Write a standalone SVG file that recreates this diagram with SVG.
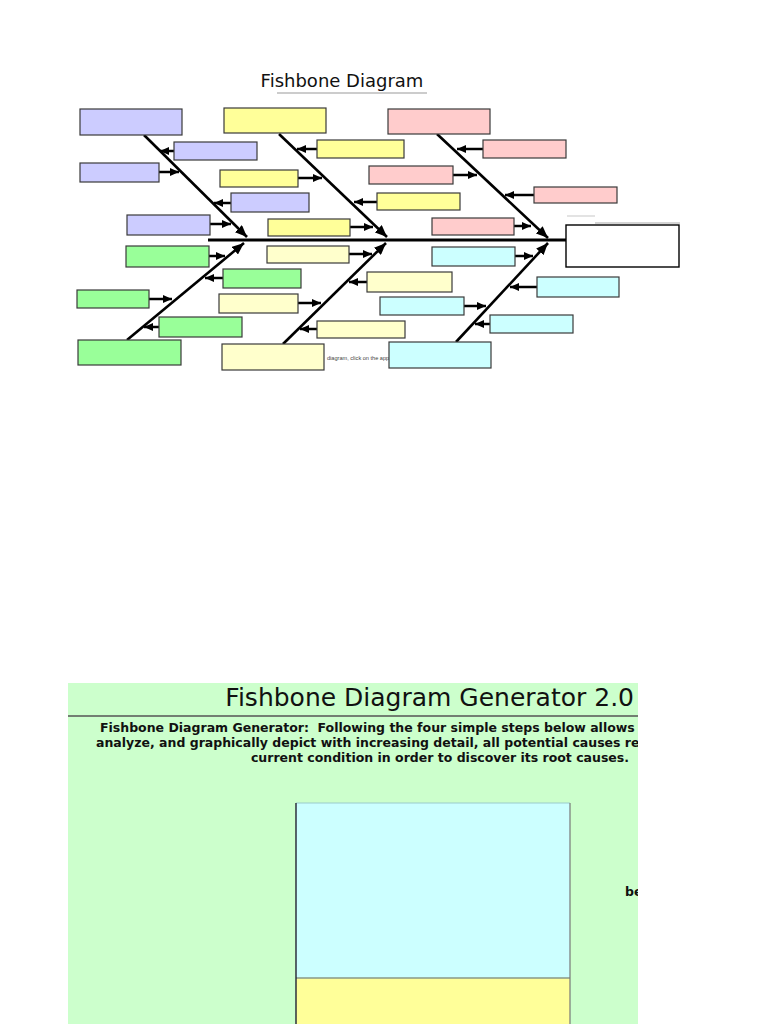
<svg xmlns="http://www.w3.org/2000/svg" width="768" height="1024" viewBox="0 0 768 1024">
<defs>
<style>
.bx{stroke:#3a3a3a;stroke-width:1.2}
.blue{fill:#CCCCFF}.yel{fill:#FFFF99}.pink{fill:#FFCCCC}.grn{fill:#99FF99}.ly{fill:#FFFFCC}.cyan{fill:#CCFFFF}
.arr{stroke:#000;stroke-width:2.5;fill:none;marker-end:url(#ah)}
.bone{stroke:#000;stroke-width:2.6;fill:none;marker-end:url(#bh)}
.body{font-family:"DejaVu Sans",Verdana,sans-serif;font-weight:bold;font-size:12.5px;fill:#111}
</style>
<marker id="ah" markerUnits="userSpaceOnUse" markerWidth="9" markerHeight="8" refX="9" refY="4" orient="auto"><path d="M0,0 L9,4 L0,8 z" fill="#000"/></marker>
<marker id="bh" markerUnits="userSpaceOnUse" markerWidth="12" markerHeight="10" refX="12" refY="5" orient="auto"><path d="M0,0 L12,5 L0,10 z" fill="#000"/></marker>
<clipPath id="pc"><rect x="68" y="683" width="570" height="341"/></clipPath>
</defs>
<rect width="768" height="1024" fill="#fff"/>

<g id="title">
<text x="342" y="87" text-anchor="middle" font-family="DejaVu Sans, sans-serif" font-size="18" fill="#111">Fishbone Diagram</text>
<line x1="277" y1="93" x2="427" y2="93" stroke="#999" stroke-width="1"/>
</g>

<text x="327" y="360" font-family="Liberation Sans, Arial, sans-serif" font-size="5.6" fill="#444">diagram, click on the app</text>

<g id="connectors">
<line x1="208" y1="240" x2="566" y2="240" stroke="#000" stroke-width="3"/>
<line class="bone" x1="144" y1="135" x2="247" y2="237"/>
<line class="bone" x1="279" y1="134" x2="387" y2="237"/>
<line class="bone" x1="437" y1="134" x2="548" y2="238"/>
<line class="bone" x1="127" y1="340" x2="244" y2="243"/>
<line class="bone" x1="283" y1="344" x2="386" y2="243"/>
<line class="bone" x1="456" y1="342" x2="548" y2="243"/>
<line class="arr" x1="174" y1="151" x2="160" y2="151"/>
<line class="arr" x1="159" y1="172" x2="179" y2="172"/>
<line class="arr" x1="231" y1="203" x2="214" y2="203"/>
<line class="arr" x1="210" y1="224" x2="231" y2="224"/>
<line class="arr" x1="317" y1="149" x2="297" y2="149"/>
<line class="arr" x1="298" y1="178" x2="322" y2="178"/>
<line class="arr" x1="377" y1="202" x2="354" y2="202"/>
<line class="arr" x1="350" y1="227" x2="373" y2="227"/>
<line class="arr" x1="483" y1="149" x2="457" y2="149"/>
<line class="arr" x1="453" y1="175" x2="477" y2="175"/>
<line class="arr" x1="534" y1="195" x2="505" y2="195"/>
<line class="arr" x1="514" y1="226" x2="531" y2="226"/>
<line class="arr" x1="209" y1="256" x2="225" y2="256"/>
<line class="arr" x1="223" y1="278" x2="205" y2="278"/>
<line class="arr" x1="149" y1="299" x2="172" y2="299"/>
<line class="arr" x1="159" y1="327" x2="144" y2="327"/>
<line class="arr" x1="349" y1="254" x2="372" y2="254"/>
<line class="arr" x1="367" y1="282" x2="349" y2="282"/>
<line class="arr" x1="298" y1="303" x2="321" y2="303"/>
<line class="arr" x1="317" y1="329" x2="300" y2="329"/>
<line class="arr" x1="515" y1="256" x2="533" y2="256"/>
<line class="arr" x1="537" y1="287" x2="510" y2="287"/>
<line class="arr" x1="464" y1="306" x2="486" y2="306"/>
<line class="arr" x1="490" y1="324" x2="475" y2="324"/>
</g>

<g id="blue-head"><rect class="bx blue" x="80" y="109" width="102" height="26"/></g>
<g id="blue-1"><rect class="bx blue" x="174" y="142" width="83" height="18"/></g>
<g id="blue-2"><rect class="bx blue" x="80" y="163" width="79" height="19"/></g>
<g id="blue-3"><rect class="bx blue" x="231" y="193" width="78" height="19"/></g>
<g id="blue-4"><rect class="bx blue" x="127" y="215" width="83" height="20"/></g>

<g id="yellow-head"><rect class="bx yel" x="224" y="108" width="102" height="25"/></g>
<g id="yellow-1"><rect class="bx yel" x="317" y="140" width="87" height="18"/></g>
<g id="yellow-2"><rect class="bx yel" x="220" y="170" width="78" height="17"/></g>
<g id="yellow-3"><rect class="bx yel" x="377" y="193" width="83" height="17"/></g>
<g id="yellow-4"><rect class="bx yel" x="268" y="219" width="82" height="17"/></g>

<g id="pink-head"><rect class="bx pink" x="388" y="109" width="102" height="25"/></g>
<g id="pink-1"><rect class="bx pink" x="483" y="140" width="83" height="18"/></g>
<g id="pink-2"><rect class="bx pink" x="369" y="166" width="84" height="18"/></g>
<g id="pink-3"><rect class="bx pink" x="534" y="187" width="83" height="16"/></g>
<g id="pink-4"><rect class="bx pink" x="432" y="218" width="82" height="17"/></g>

<g id="green-head"><rect class="bx grn" x="78" y="340" width="103" height="25"/></g>
<g id="green-1"><rect class="bx grn" x="126" y="246" width="83" height="21"/></g>
<g id="green-2"><rect class="bx grn" x="223" y="269" width="78" height="19"/></g>
<g id="green-3"><rect class="bx grn" x="77" y="290" width="72" height="18"/></g>
<g id="green-4"><rect class="bx grn" x="159" y="317" width="83" height="20"/></g>

<g id="lightyellow-head"><rect class="bx ly" x="222" y="344" width="102" height="26"/></g>
<g id="lightyellow-1"><rect class="bx ly" x="267" y="246" width="82" height="17"/></g>
<g id="lightyellow-2"><rect class="bx ly" x="367" y="272" width="85" height="20"/></g>
<g id="lightyellow-3"><rect class="bx ly" x="219" y="294" width="79" height="19"/></g>
<g id="lightyellow-4"><rect class="bx ly" x="317" y="321" width="88" height="17"/></g>

<g id="cyan-head"><rect class="bx cyan" x="389" y="342" width="102" height="26"/></g>
<g id="cyan-1"><rect class="bx cyan" x="432" y="247" width="83" height="19"/></g>
<g id="cyan-2"><rect class="bx cyan" x="537" y="277" width="82" height="20"/></g>
<g id="cyan-3"><rect class="bx cyan" x="380" y="297" width="84" height="18"/></g>
<g id="cyan-4"><rect class="bx cyan" x="490" y="315" width="83" height="18"/></g>

<g id="effect">
<line x1="567" y1="216" x2="595" y2="216" stroke="#d0d0d0" stroke-width="1.2"/>
<line x1="595" y1="223" x2="680" y2="223" stroke="#aaa" stroke-width="1.2"/>
<rect x="566" y="225" width="113" height="42" fill="#fff" stroke="#000" stroke-width="1.4"/>
</g>

<g id="generator-panel">
<rect x="68" y="683" width="570" height="341" fill="#CCFFCC"/>
<line x1="68" y1="716" x2="638" y2="716" stroke="#555" stroke-width="1.4"/>
<text x="634" y="706" text-anchor="end" font-family="DejaVu Sans, sans-serif" font-size="25" fill="#111">Fishbone Diagram Generator 2.0</text>
<g clip-path="url(#pc)">
<text class="body" x="100" y="732" xml:space="preserve">Fishbone Diagram Generator:  Following the four simple steps below allows</text>
<text class="body" x="96" y="747">analyze, and graphically depict with increasing detail, all potential causes re</text>
<text class="body" x="440" y="762" text-anchor="middle">current condition in order to discover its root causes.</text>
<text class="body" x="625" y="896">be</text>
</g>
</g>

<g id="step-box">
<rect x="296" y="803" width="274" height="175" fill="#CCFFFF"/>
<line x1="296" y1="803" x2="570" y2="803" stroke="#99cccc" stroke-width="1.2"/>
<rect x="296" y="978" width="274" height="46" fill="#FFFF99"/>
<line x1="296" y1="978" x2="570" y2="978" stroke="#889988" stroke-width="1.4"/>
<line x1="296" y1="803" x2="296" y2="1024" stroke="#223" stroke-width="1.4"/>
<line x1="570" y1="803" x2="570" y2="1024" stroke="#777" stroke-width="1.2"/>
</g>
</svg>
